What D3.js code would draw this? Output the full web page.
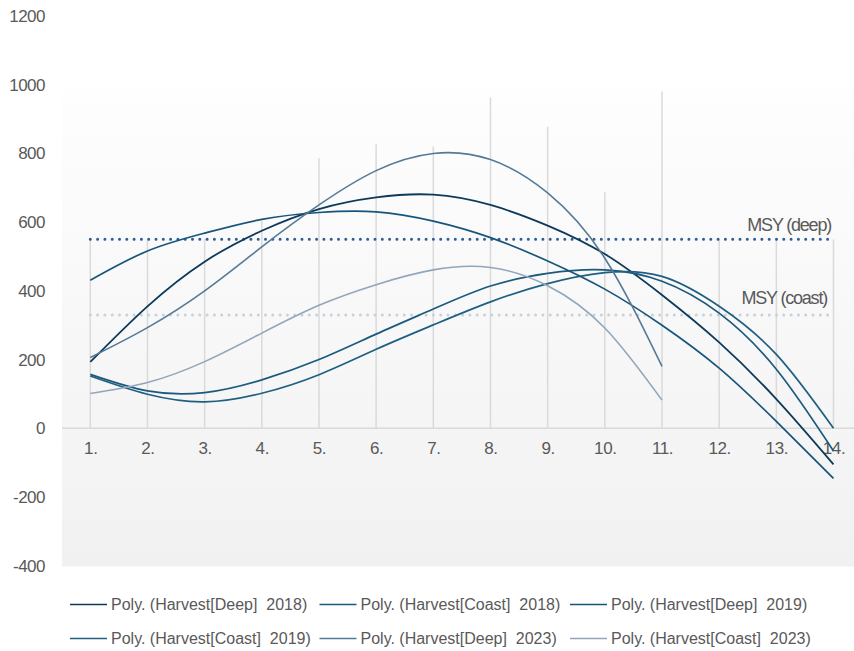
<!DOCTYPE html>
<html>
<head>
<meta charset="utf-8">
<script src="https://cdn.jsdelivr.net/npm/d3@7"></script>
<style>
  html, body { margin: 0; padding: 0; background: #ffffff; }
  svg { display: block; font-family: "Liberation Sans", Arial, sans-serif; }
</style>
</head>
<body>
<svg id="chart" width="854" height="651"></svg>
<script>
// ---------- data ----------
const xCategories = [1,2,3,4,5,6,7,8,9,10,11,12,13,14];
const yTicks = [-400,-200,0,200,400,600,800,1000,1200];
const dropTops = [550,550,550,603,786,827,820,963,878,688,980,550,550,550];

const deep2018  = [193,355,485,575,638,672,680,650,590,507,388,250,85,-105];
const coast2018 = [157,109,104,141,200,274,347,414,451,461,428,335,172,-66];
const deep2019  = [431,516,568,608,628,630,603,555,487,405,300,175,20,-146];
const coast2019 = [152,99,77,102,156,230,301,368,421,453,442,355,215,0];
const deep2023  = [206,293,400,528,650,750,800,782,685,495,180];
const coast2023 = [101,133,194,277,358,418,461,468,415,292,82];

const msyDeep = 550;
const msyCoast = 330;

const seriesNames = [
  "Poly. (Harvest[Deep]  2018)", "Poly. (Harvest[Coast]  2018)", "Poly. (Harvest[Deep]  2019)",
  "Poly. (Harvest[Coast]  2019)", "Poly. (Harvest[Deep]  2023)", "Poly. (Harvest[Coast]  2023)"
];
const seriesValues = [deep2018, coast2018, deep2019, coast2019, deep2023, coast2023];
const seriesColors = ["#0d3a5a", "#1b5a7c", "#17557a", "#1f5f82", "#557a97", "#91a6ba"];
const seriesWidths = [1.8, 1.7, 1.7, 1.7, 1.6, 1.6];

// ---------- layout ----------
const svg = d3.select("#chart");
const textColor = "#595959";

const x = d3.scaleLinear().domain([1, 14]).range([90.3, 833.5]);
const y = d3.scaleLinear().domain([-400, 1200]).range([565.7, 16]);

// plot-area background gradient
const defs = svg.append("defs");
const grad = defs.append("linearGradient").attr("id", "bg").attr("x1", 0).attr("y1", 0).attr("x2", 0).attr("y2", 1);
grad.append("stop").attr("offset", "0%").attr("stop-color", "#fefefe");
grad.append("stop").attr("offset", "100%").attr("stop-color", "#f1f1f1");
svg.append("rect").attr("x", 62).attr("y", 89).attr("width", 792).attr("height", 566.5 - 89)
  .attr("fill", "url(#bg)");

// vertical drop lines
svg.append("g").selectAll("line").data(xCategories).join("line")
  .attr("x1", d => x(d)).attr("x2", d => x(d))
  .attr("y1", y(0)).attr("y2", (d, i) => y(dropTops[i]))
  .attr("stroke", "#dadada").attr("stroke-width", 1.5);

// zero line
svg.append("line").attr("x1", 62).attr("x2", 854).attr("y1", y(0)).attr("y2", y(0))
  .attr("stroke", "#d9d9d9").attr("stroke-width", 1.5);

// y axis
const yAxis = svg.append("g").attr("transform", "translate(45,0)")
  .call(d3.axisLeft(y).tickValues(yTicks).tickSize(0).tickPadding(0).tickFormat(d => String(d)));
yAxis.select(".domain").remove();
yAxis.selectAll("text").attr("fill", textColor).style("font-size", "17px")
  .style("letter-spacing", "-0.5px").style("font-family", "'Liberation Sans', Arial, sans-serif");

// x axis labels
const xAxis = svg.append("g").attr("transform", `translate(0,${y(0) + 14})`)
  .call(d3.axisBottom(x).tickValues(xCategories).tickSize(0).tickPadding(0).tickFormat(d => d + "."));
xAxis.select(".domain").remove();
xAxis.selectAll("text").attr("fill", textColor).style("font-size", "17px")
  .style("letter-spacing", "-0.4px").style("font-family", "'Liberation Sans', Arial, sans-serif");

// MSY dotted lines
const msyLine = d3.line().x(d => x(d[0])).y(d => y(d[1]));
svg.append("path").datum([[1, msyCoast], [14, msyCoast]]).attr("d", msyLine)
  .attr("stroke", "#c8d0d9").attr("stroke-width", 3).attr("stroke-linecap", "round")
  .attr("stroke-dasharray", "0 7.3").attr("fill", "none");
svg.append("path").datum([[1, msyDeep], [14, msyDeep]]).attr("d", msyLine)
  .attr("stroke", "#2c5d98").attr("stroke-width", 3).attr("stroke-linecap", "round")
  .attr("stroke-dasharray", "0 7.3").attr("fill", "none");

svg.append("text").attr("x", 831).attr("y", 231).attr("text-anchor", "end")
  .attr("fill", textColor).style("font-size", "18px").style("letter-spacing", "-1.2px")
  .text("MSY (deep)");
svg.append("text").attr("x", 827).attr("y", 304).attr("text-anchor", "end")
  .attr("fill", textColor).style("font-size", "18px").style("letter-spacing", "-1.2px")
  .text("MSY (coast)");

// trend curves
const curve = d3.line().x((d, i) => x(xCategories[i])).y(d => y(d)).curve(d3.curveNatural);
svg.append("g").selectAll("path").data(seriesValues).join("path")
  .attr("d", d => curve(d))
  .attr("fill", "none")
  .attr("stroke", (d, i) => seriesColors[i])
  .attr("stroke-width", (d, i) => seriesWidths[i]);

// legend
const legCols = [70, 319.5, 570];
const legRows = [604.5, 638.5];
const leg = svg.append("g").selectAll("g").data(seriesNames).join("g")
  .attr("transform", (d, i) => `translate(${legCols[i % 3]},${legRows[Math.floor(i / 3)]})`);
leg.append("line").attr("x1", 0).attr("x2", 37).attr("y1", 0).attr("y2", 0)
  .attr("stroke", (d, i) => seriesColors[i]).attr("stroke-width", 1.7);
leg.append("text").attr("x", 41).attr("y", 0).attr("dy", "0.35em")
  .attr("fill", textColor).style("font-size", "16px").style("white-space", "pre")
  .text(d => d);
</script>
</body>
</html>
